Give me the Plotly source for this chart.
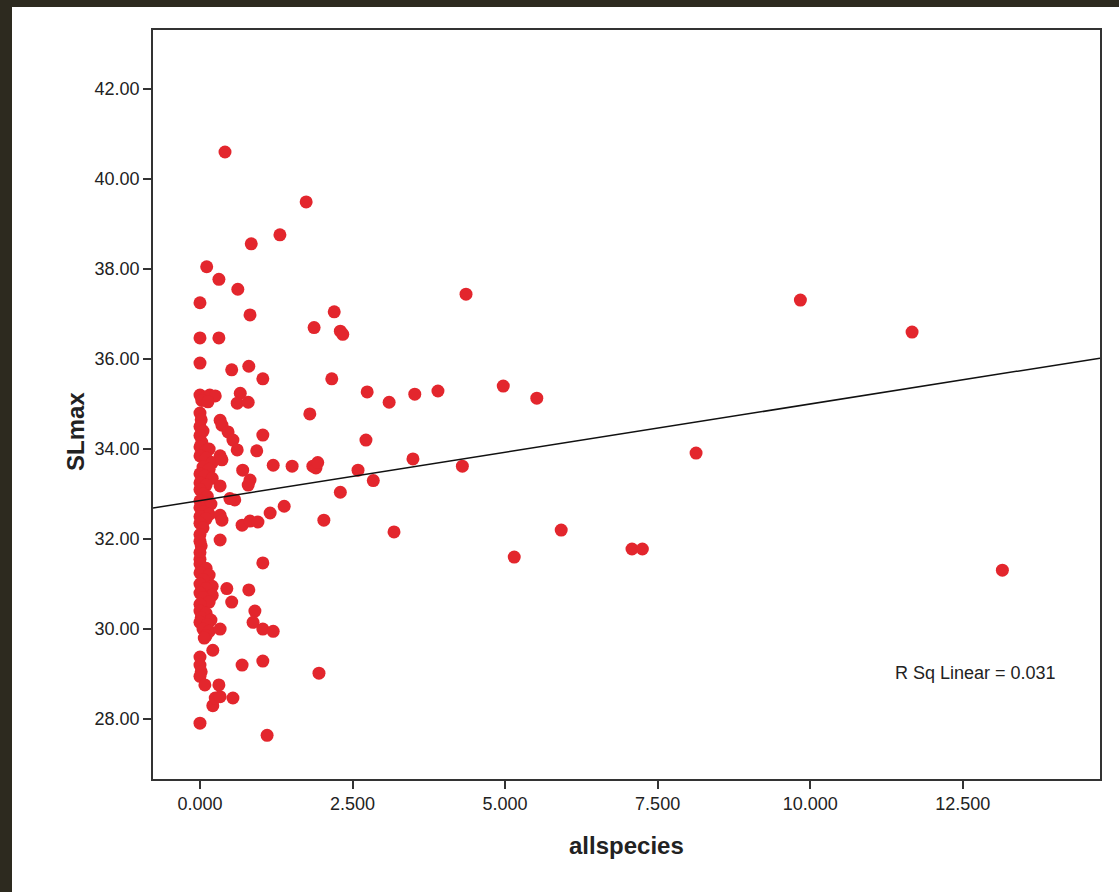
import plotly.graph_objects as go

# ---- data ----
allspecies = [
    # dense column near zero
    0.00, 0.08, 0.16, 0.25, 0.03, 0.13,
    0.00, 0.02, 0.00, 0.05, 0.00, 0.03, 0.00, 0.08, 0.15,
    0.00, 0.10, 0.20, 0.05, 0.15, 0.00, 0.08, 0.20, 0.00, 0.10, 0.00, 0.05, 0.12,
    0.00, 0.08, 0.18, 0.00, 0.05, 0.15, 0.00, 0.10, 0.00, 0.05,
    0.00, 0.00, 0.02, 0.00, 0.00,
    0.00, 0.10, 0.00, 0.15, 0.05, 0.00, 0.20, 0.10, 0.00, 0.20, 0.05, 0.15, 0.00,
    0.00, 0.10, 0.02, 0.18, 0.00, 0.12, 0.05, 0.15, 0.10, 0.07,
    0.21, 0.00, 0.00, 0.02, 0.00, 0.08, 0.31, 0.21, 0.25, 0.54, 0.00,
    # near-column points
    0.41, 1.74, 1.31, 0.84, 0.11, 0.31, 0.62, 0.00, 0.82, 2.20, 1.87, 2.30, 2.34, 4.36,
    0.00, 0.31, 0.00, 0.52, 0.80, 1.03, 2.16,
    0.66, 0.61, 0.79, 1.80,
    0.33, 0.36, 0.46, 0.54, 0.61, 1.03, 0.93, 1.20, 1.51, 1.85,
    0.33, 0.36, 0.70, 0.82, 0.79, 0.33,
    0.57, 0.49, 1.15, 1.38,
    0.33, 0.36, 0.69, 0.82, 0.95,
    0.33, 1.03,
    0.44, 0.52, 0.80, 0.90, 0.87, 1.03, 1.20, 0.33,
    0.69, 1.03, 0.33, 1.10, 1.95,
    # spread-out points
    2.72, 2.74, 3.10, 3.52, 3.90, 4.97, 5.52,
    8.13, 3.49, 4.30, 1.90, 1.93, 2.59, 2.84, 2.30, 2.03, 3.18,
    5.92, 5.15, 7.08, 7.25, 13.15, 9.84, 11.67,
]
slmax = [
    35.20, 35.15, 35.20, 35.18, 35.08, 35.05,
    34.80, 34.65, 34.50, 34.40, 34.30, 34.15, 34.05, 33.95, 34.00,
    33.85, 33.80, 33.70, 33.60, 33.55, 33.45, 33.40, 33.35, 33.25, 33.20, 33.10, 33.00, 32.95,
    32.85, 32.80, 32.78, 32.70, 32.60, 32.55, 32.50, 32.45, 32.35, 32.25,
    32.10, 31.95, 31.85, 31.70, 31.55,
    31.45, 31.35, 31.25, 31.20, 31.10, 31.00, 30.95, 30.90, 30.80, 30.75, 30.70, 30.60, 30.55,
    30.40, 30.35, 30.25, 30.20, 30.15, 30.10, 30.00, 29.95, 29.85, 29.80,
    29.53, 29.38, 29.20, 29.05, 28.95, 28.76, 28.76, 28.30, 28.47, 28.47, 27.91,
    40.60, 39.49, 38.76, 38.56, 38.05, 37.77, 37.55, 37.25, 36.98, 37.05, 36.70, 36.62, 36.55, 37.44,
    36.47, 36.47, 35.91, 35.76, 35.84, 35.56, 35.56,
    35.24, 35.02, 35.04, 34.78,
    34.64, 34.53, 34.38, 34.20, 33.98, 34.31, 33.96, 33.64, 33.62, 33.62,
    33.85, 33.76, 33.53, 33.31, 33.20, 33.18,
    32.87, 32.90, 32.58, 32.73,
    32.53, 32.42, 32.31, 32.40, 32.38,
    31.98, 31.47,
    30.90, 30.60, 30.87, 30.40, 30.15, 30.00, 29.95, 30.00,
    29.20, 29.29, 28.50, 27.64, 29.02,
    34.20, 35.27, 35.04, 35.22, 35.29, 35.40, 35.13,
    33.91, 33.78, 33.62, 33.58, 33.70, 33.53, 33.30, 33.04, 32.42, 32.16,
    32.20, 31.60, 31.78, 31.78, 31.31, 37.31, 36.60,
]

fit_intercept = 32.855
fit_slope = 0.2146
r_sq_text = "R Sq Linear = 0.031"

x_range = [-0.77, 14.75]
y_range = [26.67, 43.31]
x_ticks = [0, 2.5, 5, 7.5, 10, 12.5]
y_ticks = [28, 30, 32, 34, 36, 38, 40, 42]

# ---- figure ----
W, H = 1119, 892
L, R, T, B = 153, 19, 30, 113
pw, ph = W - L - R, H - T - B
FONT = "Liberation Sans, Arial, sans-serif"

fig = go.Figure()
fig.add_trace(go.Scatter(
    x=allspecies, y=slmax, mode="markers",
    marker=dict(size=13, color="#e3262d", line=dict(width=0)),
    showlegend=False, cliponaxis=True,
))
fit_x = [x_range[0], x_range[1]]
fit_y = [fit_intercept + fit_slope * v for v in fit_x]
fig.add_trace(go.Scatter(
    x=fit_x, y=fit_y, mode="lines",
    line=dict(color="#111111", width=1.5), showlegend=False,
))

axis_common = dict(
    showgrid=False, zeroline=False, showline=True, linecolor="#333333",
    linewidth=1.6, mirror=True, ticks="outside", ticklen=8, tickwidth=1.5,
    tickcolor="#333333",
    tickfont=dict(family=FONT, size=18, color="#222222"),
)
fig.update_xaxes(range=x_range, tickvals=x_ticks,
                 ticktext=[f"{v:.3f}" for v in x_ticks], **axis_common)
fig.update_yaxes(range=y_range, tickvals=y_ticks,
                 ticktext=[f"{v:.2f}" for v in y_ticks], **axis_common)

dark = "#2d2a1f"
fig.add_shape(type="rect", xref="paper", yref="paper", layer="above",
              x0=-L / pw, x1=(12 - L) / pw, y0=-B / ph, y1=1 + T / ph,
              fillcolor=dark, line=dict(width=0))
fig.add_shape(type="rect", xref="paper", yref="paper", layer="above",
              x0=-L / pw, x1=1 + R / pw, y0=1 + (T - 7) / ph, y1=1 + T / ph,
              fillcolor=dark, line=dict(width=0))

fig.add_annotation(text="<b>allspecies</b>", xref="paper", yref="paper",
                   x=(626 - L) / pw, y=(779 - 845) / ph, showarrow=False,
                   xanchor="center", yanchor="middle",
                   font=dict(family=FONT, size=24, color="#222222"))
fig.add_annotation(text="<b>SLmax</b>", xref="paper", yref="paper",
                   x=(75 - L) / pw, y=(779 - 432) / ph, showarrow=False, textangle=-90,
                   xanchor="center", yanchor="middle",
                   font=dict(family=FONT, size=24, color="#222222"))
fig.add_annotation(text=r_sq_text, xref="paper", yref="paper",
                   x=(975 - L) / pw, y=(779 - 673) / ph, showarrow=False,
                   xanchor="center", yanchor="middle",
                   font=dict(family=FONT, size=18, color="#222222"))

fig.update_layout(
    width=W, height=H, autosize=False,
    margin=dict(l=L, r=R, t=T, b=B),
    paper_bgcolor="white", plot_bgcolor="white",
)
fig.write_html("out.html", config={"displayModeBar": False},
               post_script="document.body.style.margin='0';document.body.style.overflow='hidden';")
